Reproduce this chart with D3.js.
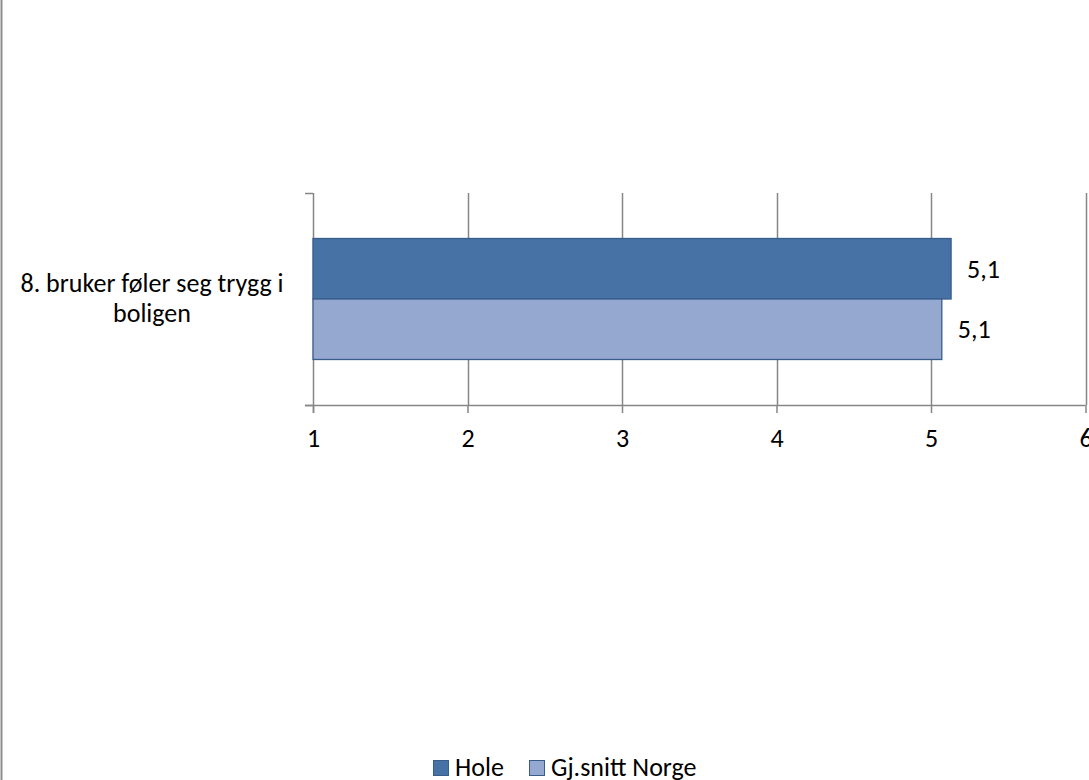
<!DOCTYPE html>
<html><head><meta charset="utf-8">
<script src="https://cdn.jsdelivr.net/npm/d3@7"></script>
<style>
body{margin:0;background:#fff;}
svg{display:block;font-family:Carlito,Lato,"Liberation Sans",sans-serif;}
</style></head>
<body>
<svg id="c" width="1089" height="780"></svg>
<script>
const categories = ["8. bruker føler seg trygg i boligen"];
const categoryLines = [["8. bruker føler seg trygg i", "boligen"]];
const seriesNames = ["Hole", "Gj.snitt Norge"];
const holeValues = [5.13];
const norgeValues = [5.07];
const valueLabels = [["5,1"], ["5,1"]];
const tickValues = [1, 2, 3, 4, 5, 6];

(function(){
const colors = ["#4672a5", "#95a8cf"];
const strokeCol = "#385d8a";
const gridCol = "#868686";
const fs = "26px";

const svg = d3.select("#c");
svg.append("line").attr("x1",1.5).attr("x2",1.5).attr("y1",0).attr("y2",780)
  .attr("stroke","#8c8c8c").attr("stroke-width",2);

const pL = 313, pR = 1085.5, pT = 193, pB = 405;
const x = d3.scaleLinear().domain([1,6]).range([pL,pR]);
const y = d3.scaleBand().domain(categories).range([pT,pB]).paddingInner(0).paddingOuter(0.376);
const ys = d3.scaleBand().domain(seriesNames).range([0,y.bandwidth()]);

svg.append("g").selectAll("line").data(tickValues.slice(1)).join("line")
  .attr("x1",d=>Math.round(x(d))+0.5).attr("x2",d=>Math.round(x(d))+0.5)
  .attr("y1",pT).attr("y2",pB)
  .attr("stroke",gridCol).attr("stroke-width",1.5);

const xAxis = d3.axisBottom(x).tickValues(tickValues).tickSize(8).tickPadding(16)
  .tickFormat(d3.format("d"));
const gx = svg.append("g").attr("transform",`translate(0,${pB})`).call(xAxis);
gx.select(".domain").attr("stroke",gridCol).attr("stroke-width",1.5).attr("d",`M${pL-8},0.5H${pR}`);
gx.selectAll(".tick line").attr("stroke",gridCol).attr("stroke-width",1.5);
gx.selectAll(".tick text").attr("fill","#000").attr("font-size",fs)
  .attr("font-family","Carlito,Lato,'Liberation Sans',sans-serif")
  .attr("y",null).attr("dy",null).attr("transform","translate(0,42)");

const yAxis = d3.axisLeft(d3.scaleLinear().domain([0,1]).range([pB,pT]))
  .tickValues([0,1]).tickSize(8).tickFormat("");
const gy = svg.append("g").attr("transform",`translate(${pL},0)`).call(yAxis);
gy.select(".domain").attr("stroke",gridCol).attr("stroke-width",1.5).attr("d",`M0.5,${pT}V${pB+8}`);
gy.selectAll(".tick line").attr("stroke",gridCol).attr("stroke-width",1.5);

const data = [holeValues, norgeValues];
seriesNames.forEach((s,i)=>{
  svg.append("g").selectAll("rect").data(categories).join("rect")
    .attr("x",x(1)).attr("y",c=>y(c)+ys(s))
    .attr("width",(c,j)=>x(data[i][j])-x(1))
    .attr("height",ys.bandwidth())
    .attr("fill",colors[i]).attr("stroke",strokeCol).attr("stroke-width",1.3);
  svg.append("g").selectAll("text").data(categories).join("text")
    .attr("x",(c,j)=>x(data[i][j])+16).attr("y",c=>y(c)+ys(s)+ys.bandwidth()/2)
    .attr("dy","0.35em").attr("font-size",fs).attr("fill","#000")
    .text((c,j)=>valueLabels[i][j]);
});

categories.forEach((c,j)=>{
  const t = svg.append("text").attr("text-anchor","middle").attr("font-size",fs).attr("fill","#000");
  const lines = categoryLines[j];
  const cy = y(c)+y.bandwidth()/2;
  lines.forEach((l,k)=>{
    t.append("tspan").attr("x",152).attr("y",cy + (k-(lines.length-1)/2)*30 - 1).attr("dy","0.35em").text(l);
  });
});

const legend = svg.append("g");
const legX = [433, 529];
seriesNames.forEach((s,i)=>{
  legend.append("rect").attr("x",legX[i]+0.5).attr("y",760.5).attr("width",15).attr("height",15)
    .attr("fill",colors[i]).attr("stroke",strokeCol).attr("stroke-width",1);
  legend.append("text").attr("x",legX[i]+22).attr("y",767).attr("dy","0.35em")
    .attr("font-size",fs).attr("fill","#000").text(s);
});
})();
</script>
</body></html>
